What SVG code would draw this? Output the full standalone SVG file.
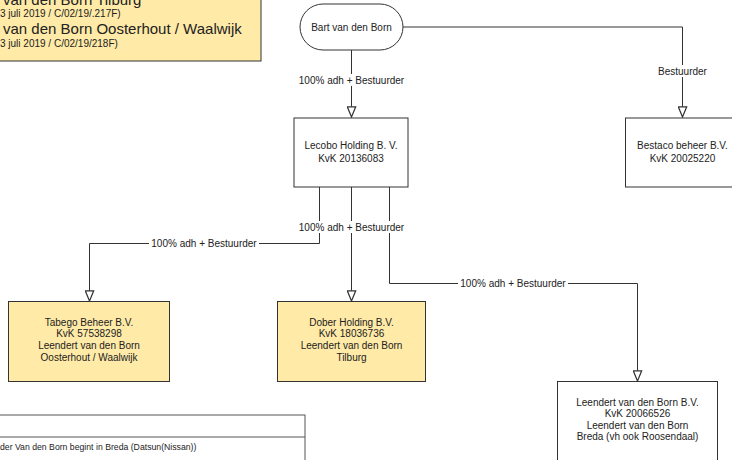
<svg xmlns="http://www.w3.org/2000/svg" width="732" height="460" viewBox="0 0 732 460">
<defs>
<marker id="arr" markerUnits="userSpaceOnUse" markerWidth="10" markerHeight="12" refX="4" refY="9" orient="0" viewBox="0 0 8 10">
<path d="M0.5,0.5 L7.5,0.5 L4,9 Z" fill="#fff" stroke="#333" stroke-width="1"/>
</marker>
<style>
text{font-family:"Liberation Sans",Arial,sans-serif;fill:#222;}
.t{font-size:10px;text-anchor:middle;}
.big{font-size:15px;}
.sm{font-size:10px;}
.box{fill:#fff;stroke:#333;stroke-width:1;}
.ybox{fill:#ffeaa7;stroke:#333;stroke-width:1;}
.con{fill:none;stroke:#333;stroke-width:1;}
.lbg{fill:#fff;}
</style>
</defs>
<g id="legend">
<rect x="-10" y="-10" width="271" height="71" class="ybox"/>
<text class="big" x="3" y="5">van den Born Tilburg</text>
<text class="sm" x="0" y="17">3 juli 2019 / C/02/19/.217F)</text>
<text class="big" x="3" y="34">van den Born Oosterhout / Waalwijk</text>
<text class="sm" x="0" y="47">3 juli 2019 / C/02/19/218F)</text>
</g>
<g id="history">
<rect x="-10" y="415" width="315" height="60" fill="#fff" stroke="#555" stroke-width="1"/>
<line x1="-10" y1="437" x2="305" y2="437" stroke="#555" stroke-width="1"/>
<text x="0" y="450" style="font-size:8.7px">der Van den Born begint in Breda (Datsun(Nissan))</text>
</g>
<g id="connectors">
<path class="con" d="M351.5 50 V117" marker-end="url(#arr)"/>
<path class="con" d="M403 27 H682.5 V117" marker-end="url(#arr)"/>
<path class="con" d="M319.5 187 V243.5 H89.5 V301" marker-end="url(#arr)"/>
<path class="con" d="M351.5 187 V301" marker-end="url(#arr)"/>
<path class="con" d="M389.5 187 V283.5 H637.5 V381" marker-end="url(#arr)"/>
<rect class="lbg" x="297" y="74" width="109" height="12"/>
<text class="t" x="351.5" y="83.5">100% adh + Bestuurder</text>
<rect class="lbg" x="657" y="65" width="51" height="12"/>
<text class="t" x="682.5" y="74.5">Bestuurder</text>
<rect class="lbg" x="149" y="237" width="110" height="12"/>
<text class="t" x="204" y="246.5">100% adh + Bestuurder</text>
<rect class="lbg" x="297" y="221" width="109" height="12"/>
<text class="t" x="351.5" y="230.5">100% adh + Bestuurder</text>
<rect class="lbg" x="458" y="277" width="110" height="12"/>
<text class="t" x="513" y="286.5">100% adh + Bestuurder</text>
</g>
<g id="bart">
<rect x="300" y="4" width="103" height="46" rx="23" class="box"/>
<text class="t" x="351.5" y="30.5">Bart van den Born</text>
</g>
<g id="lecobo">
<rect x="294" y="118" width="114" height="69" class="box"/>
<text class="t" x="351" y="149">Lecobo Holding B. V.</text>
<text class="t" x="351" y="161.5">KvK 20136083</text>
</g>
<g id="bestaco">
<rect x="625.5" y="118" width="114" height="69" class="box"/>
<text class="t" x="682.5" y="149">Bestaco beheer B.V.</text>
<text class="t" x="682.5" y="161.5">KvK 20025220</text>
</g>
<g id="tabego">
<rect x="8.5" y="301.5" width="161" height="80" class="ybox"/>
<text class="t" x="89" y="325.5">Tabego Beheer B.V.</text>
<text class="t" x="89" y="337">KvK 57538298</text>
<text class="t" x="89" y="348.5">Leendert van den Born</text>
<text class="t" x="89" y="360.5">Oosterhout / Waalwijk</text>
</g>
<g id="dober">
<rect x="277.5" y="301.5" width="148" height="80" class="ybox"/>
<text class="t" x="351.5" y="325.5">Dober Holding B.V.</text>
<text class="t" x="351.5" y="337">KvK 18036736</text>
<text class="t" x="351.5" y="348.5">Leendert van den Born</text>
<text class="t" x="351.5" y="360.5">Tilburg</text>
</g>
<g id="leendert">
<rect x="557.5" y="381.5" width="160" height="90" class="box"/>
<text class="t" x="637.5" y="405.5">Leendert van den Born B.V.</text>
<text class="t" x="637.5" y="417">KvK 20066526</text>
<text class="t" x="637.5" y="428.5">Leendert van den Born</text>
<text class="t" x="637.5" y="440">Breda (vh ook Roosendaal)</text>
</g>
</svg>
